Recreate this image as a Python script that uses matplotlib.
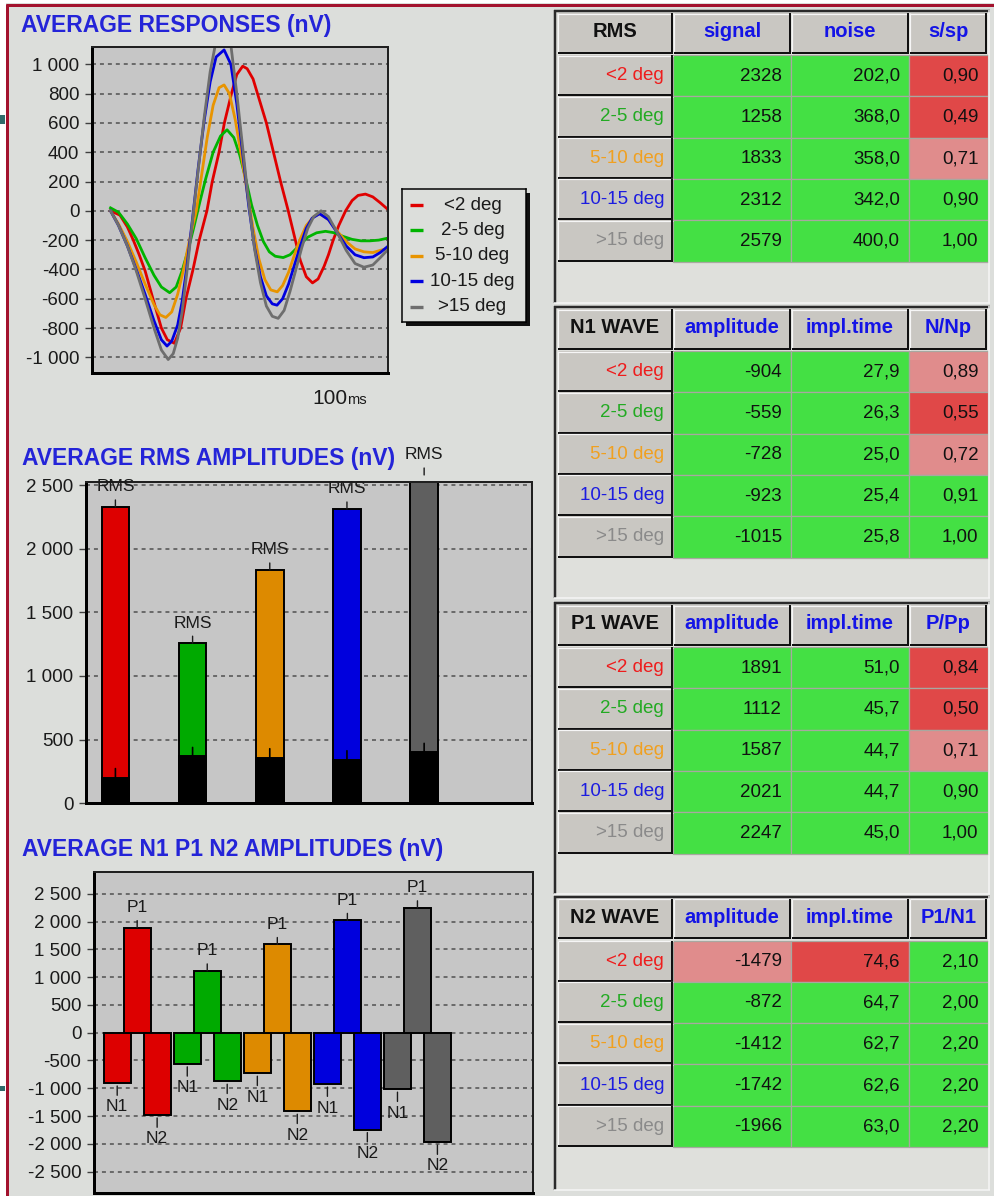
import matplotlib
matplotlib.use("Agg")
import matplotlib.pyplot as plt
from matplotlib.patches import Rectangle
from matplotlib.ticker import FuncFormatter

plt.rcParams['font.family'] = ['Liberation Sans', 'DejaVu Sans']

W, H = 995, 1196

# ---- data ----
groups = ['<2 deg', '2-5 deg', '5-10 deg', '10-15 deg', '>15 deg']

# average responses (time in ms, amplitude in nV)
t_lt2 = [6.3, 9.5, 12, 14, 16, 18, 20.5, 23.5, 25.5, 27.9, 30, 31.8, 34.2, 36.3, 38.9, 40.7, 43, 44.8,
         47.2, 49, 51, 52.5, 54.5, 56, 57.5, 59, 61.4, 63.8, 66.4, 68.8, 70.5, 72.5, 74.6, 76.5, 78.5,
         80, 81.6, 83.5, 85.8, 88, 90, 92.5, 95, 97.5, 100]
v_lt2 = [0, -30, -110, -200, -300, -410, -590, -800, -880, -904, -800, -600, -400, -200, 0, 200, 400, 600,
         800, 930, 987, 970, 900, 800, 700, 600, 400, 200, 0, -200, -340, -450, -492, -465, -380,
         -300, -200, -100, 0, 70, 105, 114, 95, 55, 11]

t_2_5 = [6.3, 9, 12, 15, 18, 21, 23.5, 26.3, 28.5, 30.5, 32.5, 34.5, 36.5, 38.5, 41, 43.5, 45.7, 48, 50,
         52, 54, 56, 58, 60, 62, 64.7, 67, 70, 73, 76, 79, 82, 85, 88, 91, 94, 97, 100]
v_2_5 = [20, -10, -90, -190, -320, -440, -520, -559, -520, -410, -270, -110, 60, 220, 400, 510, 553, 500, 380,
         220, 40, -100, -210, -280, -310, -319, -300, -240, -180, -150, -140, -150, -175, -195, -205, -205,
         -200, -187]

t_5_10 = [6.3, 9, 12, 15, 18, 21, 23, 25, 27, 29, 31, 33, 35.3, 37, 39, 41, 43, 44.7, 46.5, 48.5, 50.5,
          52.5, 54.5, 56.5, 58.5, 60.5, 62.7, 64.5, 66.5, 68.5, 70.5, 72.5, 75, 77, 80, 83, 86, 89, 92,
          95, 97.5, 100]
v_5_10 = [0, -90, -210, -350, -500, -640, -710, -728, -690, -570, -400, -200, 0, 230, 500, 720, 840, 859, 800,
          620, 380, 130, -120, -330, -470, -540, -553, -510, -420, -300, -190, -100, -40, -20, -60, -140,
          -210, -260, -280, -285, -270, -256]

t_10_15 = [6.3, 9, 12, 15, 18, 21, 23.5, 25.4, 27, 29, 30.5, 32, 34, 36, 38, 40, 42, 44.7, 47, 49, 51, 53,
           55, 57, 59, 61, 62.6, 64.5, 66.5, 68.5, 70.5, 72.5, 74.5, 77, 80, 83, 86, 89, 92, 95, 97.5, 100]
v_10_15 = [0, -100, -240, -400, -570, -750, -880, -923, -890, -780, -620, -400, -60, 300, 620, 880, 1050, 1098,
           1000, 730, 390, 40, -250, -450, -580, -635, -644, -600, -500, -370, -240, -120, -50, -20, -60,
           -150, -240, -300, -320, -315, -285, -244]

t_gt15 = [6.3, 9, 12, 15, 18, 21, 23.5, 25.8, 27.5, 29, 30.5, 32, 34, 36, 38, 40, 42, 45, 47, 49, 51, 53,
          55, 57, 59, 61, 63, 65, 67, 69, 71, 73, 75, 77.5, 80, 83, 86, 89, 92, 95, 97.5, 100]
v_gt15 = [0, -100, -240, -410, -600, -800, -950, -1015, -975, -870, -690, -440, -70, 290, 640, 950, 1160, 1232,
          1130, 800, 430, 60, -260, -490, -650, -720, -734, -680, -550, -400, -250, -120, -40, 0, -40, -150,
          -270, -360, -385, -370, -320, -267]

waves = [(t_lt2, v_lt2), (t_2_5, v_2_5), (t_5_10, v_5_10), (t_10_15, v_10_15), (t_gt15, v_gt15)]

# tables
rms_signal = [2328, 1258, 1833, 2312, 2579]
rms_noise = [202.0, 368.0, 358.0, 342.0, 400.0]
rms_ssp = [0.90, 0.49, 0.71, 0.90, 1.00]

n1_amp = [-904, -559, -728, -923, -1015]
n1_time = [27.9, 26.3, 25.0, 25.4, 25.8]
n1_ratio = [0.89, 0.55, 0.72, 0.91, 1.00]

p1_amp = [1891, 1112, 1587, 2021, 2247]
p1_time = [51.0, 45.7, 44.7, 44.7, 45.0]
p1_ratio = [0.84, 0.50, 0.71, 0.90, 1.00]

n2_amp = [-1479, -872, -1412, -1742, -1966]
n2_time = [74.6, 64.7, 62.7, 62.6, 63.0]
p1_n1 = [2.10, 2.00, 2.20, 2.20, 2.20]

# flagged cells (row, column) -> level
rms_flags = {(0, 2): 'bad', (1, 2): 'bad', (2, 2): 'warn'}
n1_flags = {(0, 2): 'warn', (1, 2): 'bad', (2, 2): 'warn'}
p1_flags = {(0, 2): 'bad', (1, 2): 'bad', (2, 2): 'warn'}
n2_flags = {(0, 0): 'warn', (0, 1): 'bad'}

# ---- styles ----
BG = '#dcdedb'
PLOT_BG = '#c6c6c6'
TITLE_C = '#2424d8'
wave_colors = ['#e00000', '#00b400', '#e89400', '#0000e0', '#6e6e6e']
bar_colors = ['#dd0000', '#00aa00', '#dd8a00', '#0000dd', '#5f5f5f']
label_colors = ['#ee1c1c', '#22aa22', '#f0a020', '#1c1ce0', '#8a8a8a']
cell_colors = {'ok': '#44e044', 'bad': '#e04848', 'warn': '#e08c8c'}
PX = 0.72  # points per pixel

def ax_rect(x0, y0, x1, y1):
    return [x0 / W, 1 - y1 / H, (x1 - x0) / W, (y1 - y0) / H]

def thousands(v, pos=None):
    return f"{int(round(v)):,}".replace(',', ' ')

def dec(v, n):
    return f"{v:.{n}f}".replace('.', ',')

fig = plt.figure(figsize=(W / 100, H / 100), dpi=100)
fig.patch.set_facecolor(BG)

canvas = fig.add_axes([0, 0, 1, 1], zorder=0)
canvas.set_xlim(0, W)
canvas.set_ylim(H, 0)
canvas.axis('off')

def box(x0, y0, x1, y1, **kw):
    canvas.add_patch(Rectangle((x0, y0), x1 - x0, y1 - y0, **kw))

def seg(xs, ys, color, px):
    canvas.plot(xs, ys, color=color, lw=px * PX, solid_capstyle='butt')

# window frame
box(0, 0, 5.5, H, fc='white', lw=0)
box(0, 0, W, 3, fc='white', lw=0)
box(0, 115, 5, 124, fc='#2f6b6b', lw=0)
box(0, 1086, 5, 1091, fc='#2f6b6b', lw=0)
seg([7, 7], [4, H], '#a3122e', 3)
seg([5.5, W], [4.5, 4.5], '#a3122e', 3)

# ---- titles ----
canvas.text(21, 31.7, 'AVERAGE RESPONSES (nV)', fontsize=16.5, fontweight='bold', color=TITLE_C, va='baseline')
canvas.text(22, 465, 'AVERAGE RMS AMPLITUDES (nV)', fontsize=16.5, fontweight='bold', color=TITLE_C, va='baseline')
canvas.text(22, 856, 'AVERAGE N1 P1 N2 AMPLITUDES (nV)', fontsize=16.5, fontweight='bold', color=TITLE_C, va='baseline')

def style(ax, ticks):
    ax.set_facecolor(PLOT_BG)
    for s in ['left', 'bottom']:
        ax.spines[s].set_linewidth(3 * PX)
        ax.spines[s].set_color('black')
    for s in ['top', 'right']:
        ax.spines[s].set_linewidth(2 * PX)
        ax.spines[s].set_color('#202020')
    ax.set_yticks(ticks)
    ax.yaxis.set_major_formatter(FuncFormatter(thousands))
    ax.yaxis.grid(True, ls=(0, (2.6, 2.6)), color='#505050', lw=1.1)
    ax.set_axisbelow(True)
    ax.set_xticks([])
    ax.tick_params(axis='y', length=5, width=1, color='#404040', labelsize=13.5,
                   labelcolor='#1a1a1a', pad=4)

# ---- average responses ----
ax1 = fig.add_axes(ax_rect(91.9, 46.7, 387.6, 373.3), zorder=2)
style(ax1, list(range(-1000, 1001, 200)))
for (t, v), c in zip(waves, wave_colors):
    ax1.plot(t, v, color=c, lw=2.0)
ax1.set_xlim(0, 100)
ax1.set_ylim(-1109, 1120)
canvas.text(347, 404, '100', fontsize=15, ha='right', va='baseline', color='#1a1a1a')
canvas.text(347.5, 404, 'ms', fontsize=10.5, ha='left', va='baseline', color='#1a1a1a')

# legend
box(405.5, 193, 530, 325.5, fc='#101010', lw=0)
leg = fig.add_axes(ax_rect(401.7, 189.3, 526.2, 321.7), zorder=3)
leg.set_facecolor(BG)
leg.set_xlim(401.7, 526.2)
leg.set_ylim(321.7, 189.3)
leg.set_xticks([])
leg.set_yticks([])
for s in leg.spines.values():
    s.set_linewidth(1.5 * PX)
    s.set_color('black')
for i, (lab, c) in enumerate(zip(groups, wave_colors)):
    y = 205 + 25.4 * i
    leg.plot([410.4, 422.7], [y, y], color=c, lw=2.4, solid_capstyle='butt')
    leg.text(472.5, y, lab, ha='center', va='center', fontsize=13.5, color='#1a1a1a')

# ---- RMS amplitudes ----
ax2 = fig.add_axes(ax_rect(86, 481.7, 532.5, 803.3), zorder=2)
style(ax2, list(range(0, 2501, 500)))
xs = list(range(len(groups)))
ax2.bar(xs, rms_signal, width=0.356, color=bar_colors, edgecolor='black', linewidth=1.4)
ax2.bar(xs, rms_noise, width=0.356, color='black', edgecolor='black', linewidth=1.4)
for i in xs:
    ax2.annotate('RMS', xy=(i, rms_signal[i]), xytext=(0, 20), textcoords='offset pixels',
                 ha='center', va='center', fontsize=12.5, color='#1a1a1a', annotation_clip=False,
                 arrowprops=dict(arrowstyle='-', color='#1a1a1a', lw=1, shrinkA=2, shrinkB=0))
    ax2.annotate('', xy=(i, rms_noise[i]), xytext=(0, 9), textcoords='offset pixels',
                 arrowprops=dict(arrowstyle='-', color='black', lw=1.2, shrinkA=0, shrinkB=0))
ax2.set_xlim(-0.381, 5.404)
ax2.set_ylim(0, 2526)

# ---- N1 P1 N2 amplitudes ----
ax3 = fig.add_axes(ax_rect(94, 872.3, 532.5, 1192.7), zorder=2)
style(ax3, list(range(-2500, 2501, 500)))
off, bw = 0.285, 0.386
ax3.bar([x - off for x in xs], n1_amp, width=bw, color=bar_colors, edgecolor='black', linewidth=1.4)
ax3.bar(xs, p1_amp, width=bw, color=bar_colors, edgecolor='black', linewidth=1.4)
ax3.bar([x + off for x in xs], n2_amp, width=bw, color=bar_colors, edgecolor='black', linewidth=1.4)
for i in xs:
    ax3.annotate('P1', xy=(i, p1_amp[i]), xytext=(0, 20), textcoords='offset pixels',
                 ha='center', va='center', fontsize=12.5, color='#1a1a1a', annotation_clip=False,
                 arrowprops=dict(arrowstyle='-', color='#1a1a1a', lw=1, shrinkA=2, shrinkB=0))
    ax3.annotate('N1', xy=(i - off, n1_amp[i]), xytext=(0, -24), textcoords='offset pixels',
                 ha='center', va='center', fontsize=12.5, color='#1a1a1a', annotation_clip=False,
                 arrowprops=dict(arrowstyle='-', color='#1a1a1a', lw=1, shrinkA=1, shrinkB=2.2))
    ax3.annotate('N2', xy=(i + off, n2_amp[i]), xytext=(0, -24), textcoords='offset pixels',
                 ha='center', va='center', fontsize=12.5, color='#1a1a1a', annotation_clip=False,
                 arrowprops=dict(arrowstyle='-', color='#1a1a1a', lw=1, shrinkA=1, shrinkB=2.2))
ax3.set_xlim(-0.616, 5.642)
ax3.set_ylim(-2878, 2885)

# ---- tables ----
col_x = [557, 673, 791, 909, 987.5]
ROW_H = 41.3

def button(x0, y0, x1, y1):
    box(x0, y0, x1, y1, fc='#c9c7c2', lw=0)
    seg([x0, x1], [y0 + 0.5, y0 + 0.5], '#f6f6f6', 1.2)
    seg([x0 + 0.5, x0 + 0.5], [y0, y1], '#f6f6f6', 1.2)
    seg([x0, x1], [y1 - 1, y1 - 1], '#111111', 2)
    seg([x1 - 1, x1 - 1], [y0, y1], '#111111', 2)

tables = [
    (10, 303, 'RMS', ['signal', 'noise', 's/sp'],
     [[str(v) for v in rms_signal], [dec(v, 1) for v in rms_noise], [dec(v, 2) for v in rms_ssp]], rms_flags),
    (306, 598, 'N1 WAVE', ['amplitude', 'impl.time', 'N/Np'],
     [[str(v) for v in n1_amp], [dec(v, 1) for v in n1_time], [dec(v, 2) for v in n1_ratio]], n1_flags),
    (602, 894, 'P1 WAVE', ['amplitude', 'impl.time', 'P/Pp'],
     [[str(v) for v in p1_amp], [dec(v, 1) for v in p1_time], [dec(v, 2) for v in p1_ratio]], p1_flags),
    (895.5, 1190, 'N2 WAVE', ['amplitude', 'impl.time', 'P1/N1'],
     [[str(v) for v in n2_amp], [dec(v, 1) for v in n2_time], [dec(v, 2) for v in p1_n1]], n2_flags),
]

for top, bottom, head, cols, values, flags in tables:
    # sunken panel
    box(553.5, top, 989.5, bottom, fc='#dfe0dc', lw=0)
    seg([553.5, 989.5], [top + 1, top + 1], '#2a2a2a', 2.5)
    seg([554.5, 554.5], [top, bottom], '#2a2a2a', 2.5)
    seg([553.5, 989.5], [bottom - 0.5, bottom - 0.5], '#f6f6f6', 1.5)
    seg([989, 989], [top, bottom], '#f6f6f6', 1.5)

    hy0, hy1 = top + 3, top + 43.5
    for c in range(4):
        button(col_x[c] + 0.5, hy0, col_x[c + 1] - 0.5, hy1)
        txt = head if c == 0 else cols[c - 1]
        canvas.text((col_x[c] + col_x[c + 1]) / 2, (hy0 + hy1) / 2 - 1.5, txt, ha='center', va='center',
                    fontsize=14.5, fontweight='bold', color='#111111' if c == 0 else '#1414e6')
    for r in range(len(groups)):
        y0 = top + 45 + r * ROW_H
        y1 = y0 + ROW_H
        button(col_x[0] + 0.5, y0, col_x[1] - 0.5, y1)
        canvas.text(col_x[1] - 9, (y0 + y1) / 2, groups[r], ha='right', va='center',
                    fontsize=13.5, color=label_colors[r])
        for c in range(3):
            fc = cell_colors[flags.get((r, c), 'ok')]
            box(col_x[c + 1], y0, col_x[c + 2], y1, fc=fc, ec='#a8a8a0', lw=0.9)
            canvas.text(col_x[c + 2] - 9, (y0 + y1) / 2 + 0.5, values[c][r], ha='right', va='center',
                        fontsize=13.5, color='#111111')

fig.savefig('out.png', dpi=100, facecolor=BG)
